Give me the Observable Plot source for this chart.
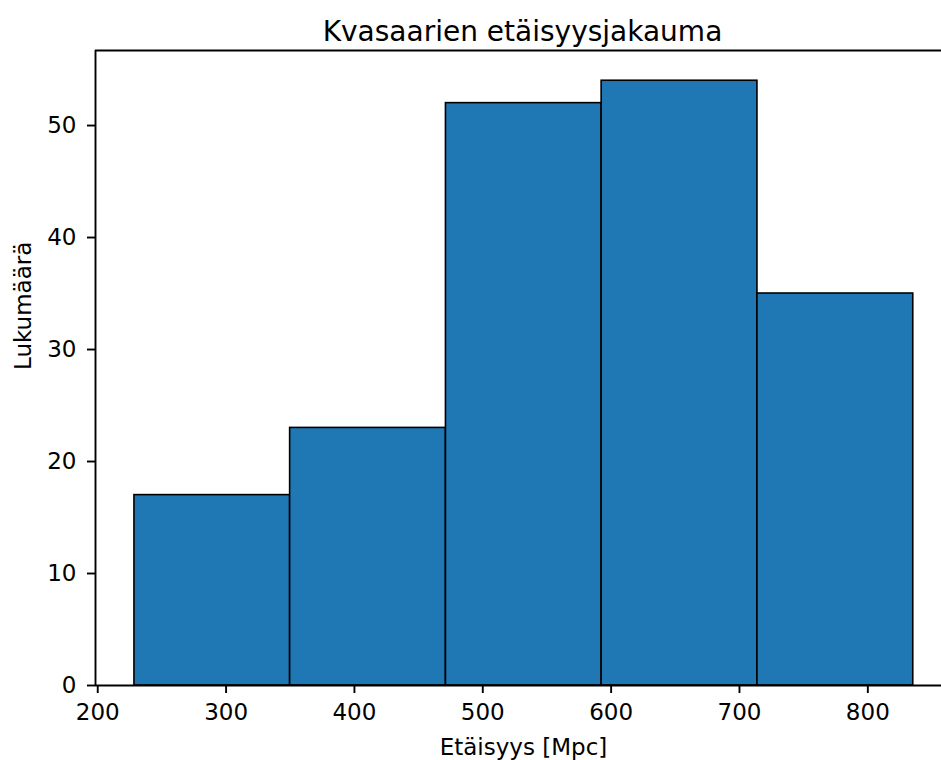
<!DOCTYPE html>
<html>
<head>
<meta charset="utf-8">
<script src="https://cdn.jsdelivr.net/npm/d3@7"></script>
<script src="https://cdn.jsdelivr.net/npm/@observablehq/plot@0.6"></script>
<style>
  html, body { margin: 0; padding: 0; background: white; }
  #chart svg { display: block; }
</style>
</head>
<body>
<div id="chart"></div>
<script>
// Histogram of quasar distances: bin edges (Mpc) and counts per bin
const binEdges = [228.6, 349.9, 471.3, 592.6, 714.0, 835.4];
const counts = [17, 23, 52, 54, 35];
const xTicks = [200, 300, 400, 500, 600, 700, 800];
const yTicks = [0, 10, 20, 30, 40, 50];
const titleText = "Kvasaarien etäisyysjakauma";
const xLabel = "Etäisyys [Mpc]";
const yLabel = "Lukumäärä";

const bins = counts.map((c, i) => ({x1: binEdges[i], x2: binEdges[i + 1], count: c}));

// 5% padding around the data, as in the usual axis autoscaling
const span = binEdges[binEdges.length - 1] - binEdges[0];
const xMin = binEdges[0] - 0.05 * span;
const xMax = 857.4; // visible right edge of the plot area
const yMax = d3.max(counts) * 1.05;

const spine = 1.9;

const chart = Plot.plot({
  width: 941,
  height: 760,
  marginLeft: 95,
  marginRight: 0,
  marginTop: 50,
  marginBottom: 75,
  style: {fontFamily: "DejaVu Sans", fontSize: "23px", color: "black", background: "white"},
  x: {domain: [xMin, xMax]},
  y: {domain: [0, yMax]},
  marks: [
    Plot.rectY(bins, {x1: "x1", x2: "x2", y: "count", fill: "#1f77b4", stroke: "black", strokeWidth: 1.6}),
    // spines: left, bottom, top
    Plot.ruleX([xMin], {stroke: "black", strokeWidth: spine}),
    Plot.ruleY([0], {stroke: "black", strokeWidth: spine}),
    Plot.ruleY([yMax], {stroke: "black", strokeWidth: spine}),
    Plot.axisX(xTicks, {tickSize: 8, tickPadding: 10, strokeWidth: spine, fontSize: 23, label: null}),
    Plot.axisY(yTicks, {tickSize: 8, tickPadding: 11, strokeWidth: spine, fontSize: 23, label: null}),
    Plot.text([titleText], {frameAnchor: "top", lineAnchor: "middle", dx: 4, dy: -18.5, fontSize: 28, fill: "black"}),
    Plot.text([xLabel], {frameAnchor: "bottom", lineAnchor: "middle", dx: 5, dy: 62.5, fontSize: 23, fill: "black"}),
    Plot.text([yLabel], {frameAnchor: "left", lineAnchor: "middle", dx: -72, dy: 2, rotate: -90, fontSize: 23, fill: "black"})
  ]
});

document.getElementById("chart").appendChild(chart);
</script>
</body>
</html>
